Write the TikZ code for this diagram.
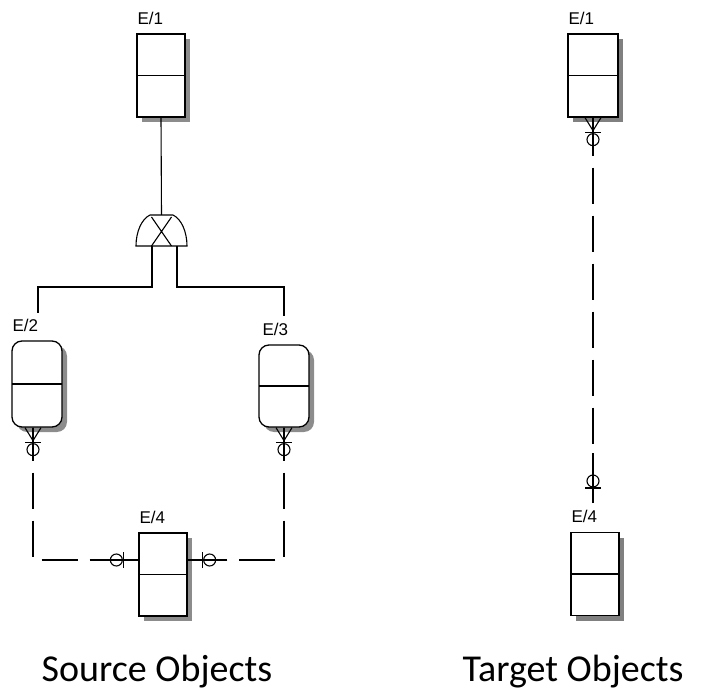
\documentclass[tikz,border=0pt]{standalone}
\usepackage{fontspec}
\setmainfont{Carlito}
\newfontfamily\entfont{Liberation Sans}
\usepackage{tikz}
\usetikzlibrary{positioning, shadows, calc}

\tikzset{
  zeroone/.pic={
    \draw[line width=1.1pt] (-8,15) -- (8,15);
    \draw[line width=1.1pt] (0,22) circle[radius=6pt];
  },
  crowfoot/.pic={
    \draw[line width=1.1pt] (-8,0) -- (0,13) -- (8,0) (0,0) -- (0,13);
  },
  xgate/.pic={
    \draw[line width=1.1pt] (-25.5,0) .. controls (-25.5,-14) and (-20,-27) .. (-11.5,-31)
      -- (11.5,-31) .. controls (20,-27) and (25.5,-14) .. (25.5,0) -- cycle;
    \draw[line width=1.1pt] (-10,-29) -- (10,0) (10,-29) -- (-10,0);
    \coordinate (-top) at (0,-31);
    \coordinate (-left) at (-9.5,0);
    \coordinate (-right) at (15.5,0);
  }
}

\begin{document}
\begin{tikzpicture}[x=1pt, y=-1pt,
  entity/.style={draw, line width=1.3pt, fill=white, inner sep=0pt,
    minimum width=48pt, minimum height=83pt,
    path picture={\draw[line width=1.3pt] (path picture bounding box.west) -- (path picture bounding box.east);}},
  hatched/.style={drop shadow={shadow xshift=5pt, shadow yshift=-5pt, opacity=1, fill=black!45}},
  greyshadow/.style={drop shadow={shadow xshift=5pt, shadow yshift=-5pt, opacity=1, fill=black!50}},
  capsule/.style={rounded corners=10pt, minimum width=50pt},
  ename/.style={font=\entfont\fontsize{17}{17}\selectfont, inner sep=0pt},
  caption/.style={font=\fontsize{38}{40}\selectfont, inner sep=0pt},
  rel/.style={line width=1.1pt},
  dashes/.style={rel, dash pattern=on 36pt off 12pt, dash phase=36pt}]

  \useasboundingbox (0,0) rectangle (704,692);

  \node[entity, hatched] (e1s) at (161,75.5) {};
  \node[entity, hatched, capsule, minimum height=86pt] (e2) at (37,384) {};
  \node[entity, hatched, capsule, minimum height=82pt] (e3) at (284,386) {};
  \node[entity, hatched] (e4s) at (163,574.5) {};
  \node[entity, greyshadow, minimum width=50pt] (e1t) at (593,75.5) {};
  \node[entity, greyshadow] (e4t) at (595,574) {};

  \node[ename, above right=8.5pt and 1pt of e1s.north west] (e1slbl) {E/1};
  \node[ename, above right=8.5pt and 1pt of e2.north west] (e2lbl) {E/2};
  \node[ename, above right=8.5pt and 4pt of e3.north west] (e3lbl) {E/3};
  \node[ename, above right=8.5pt and 1pt of e4s.north west] (e4slbl) {E/4};
  \node[ename, above right=8.5pt and 1pt of e1t.north west] (e1tlbl) {E/1};
  \node[ename, above right=8.5pt and 1pt of e4t.north west] (e4tlbl) {E/4};

  \pic (gate) at (161.5,246) {xgate};
  \coordinate (e2in) at (38,313);
  \coordinate (e3in) at (284,316);
  \draw[rel] (e1s.south) -- (gate-top);
  \draw[rel] (gate-left) -- ++(0,41) -| (e2in);
  \draw[rel] (gate-right) -- ++(0,41) -| (e3in);

  \coordinate (e2out) at ([xshift=-4pt]e2.south);
  \coordinate (e4inl) at ([yshift=14.5pt]e4s.west);
  \coordinate (e4inr) at ([yshift=14.5pt]e4s.east);
  \draw[rel] (e2out) -- ++(0,33) coordinate (e2stub);
  \draw[rel] (e3.south) -- ++(0,33) coordinate (e3stub);
  \draw[rel] (e4inl) -- ++(-39,0) coordinate (e4stubl);
  \draw[rel] (e4inr) -- ++(38,0) coordinate (e4stubr);
  \draw[dashes] (e2stub) |- (e4stubl);
  \draw[dashes] (e3stub) |- (e4stubr);
  \pic at (e2out) {crowfoot};
  \pic at (e2out) {zeroone};
  \pic at (e3.south) {crowfoot};
  \pic at (e3.south) {zeroone};
  \pic[rotate=-90] at (e4inl) {zeroone};
  \pic[rotate=90] at (e4inr) {zeroone};

  \coordinate (e4tin) at (593,503);
  \draw[rel] (e1t.south) -- ++(0,38) coordinate (e1tstub);
  \draw[rel] (e4tin) -- ++(0,-50) coordinate (e4tstub);
  \draw[dashes] (e1tstub) -- (e4tstub);
  \pic at (e1t.south) {crowfoot};
  \pic at (e1t.south) {zeroone};
  \pic[rotate=180] at (e4tin) {zeroone};

  \node[caption, anchor=base] (srccap) at (157,681) {Source Objects};
  \node[caption, anchor=base] (tgtcap) at (573,681) {Target Objects};
\end{tikzpicture}
\end{document}
